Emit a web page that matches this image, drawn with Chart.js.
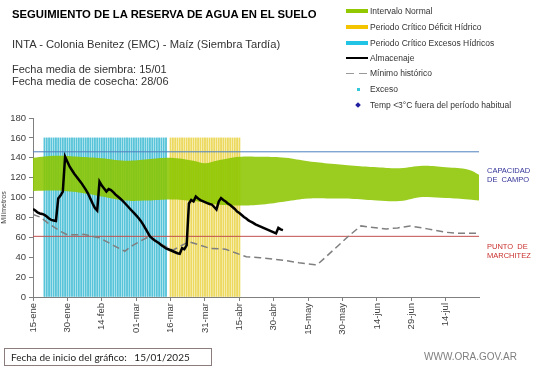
<!DOCTYPE html>
<html>
<head>
<meta charset="utf-8">
<script src="https://cdn.jsdelivr.net/npm/chart.js@4.4.0/dist/chart.umd.min.js"></script>
<style>
body { margin: 0; background: #fff; font-family: "Liberation Sans", Arial, sans-serif; }
#wrap { position: relative; width: 541px; height: 368px; overflow: hidden; }
#grafico { position: absolute; left: 0; top: 0; }
.t { position: absolute; white-space: nowrap; color: #404040; line-height: 1; }
.sw { position: absolute; }
.ley { position: absolute; left: 370px; font-size: 8.5px; color: #333; white-space: nowrap; line-height: 1; }
</style>
</head>
<body>
<div id="wrap">
  <canvas id="grafico" width="541" height="368"></canvas>

  <div class="t" style="left:12px;top:9px;font-size:11.3px;font-weight:bold;color:#000">SEGUIMIENTO DE LA RESERVA DE AGUA EN EL SUELO</div>
  <div class="t" style="left:12px;top:39px;font-size:11.2px;color:#333">INTA - Colonia Benitez (EMC) - Maíz (Siembra Tardía)</div>
  <div class="t" style="left:12px;top:64px;font-size:11px;color:#333">Fecha media de siembra: 15/01</div>
  <div class="t" style="left:12px;top:76px;font-size:11px;color:#333">Fecha media de cosecha: 28/06</div>

  <!-- leyenda -->
  <div class="sw" style="left:346px;top:9px;width:22px;height:4px;background:#92c800"></div>
  <div class="ley" style="top:7px">Intervalo Normal</div>
  <div class="sw" style="left:346px;top:25px;width:22px;height:4px;background:#f5c400"></div>
  <div class="ley" style="top:23px">Periodo Crítico Déficit Hídrico</div>
  <div class="sw" style="left:346px;top:41px;width:22px;height:4px;background:#22c4e6"></div>
  <div class="ley" style="top:39px">Periodo Crítico Excesos Hídricos</div>
  <div class="sw" style="left:346px;top:57px;width:22px;height:2px;background:#000"></div>
  <div class="ley" style="top:54px">Almacenaje</div>
  <div class="sw" style="left:346px;top:72.5px;width:8px;height:1.5px;background:#999"></div>
  <div class="sw" style="left:359px;top:72.5px;width:8px;height:1.5px;background:#999"></div>
  <div class="ley" style="top:69px">Mínimo histórico</div>
  <div class="sw" style="left:356.5px;top:87.5px;width:3px;height:3px;background:#33c8dc"></div>
  <div class="ley" style="top:85px">Exceso</div>
  <div class="sw" style="left:356px;top:103px;width:4px;height:4px;background:#1f1f9f;transform:rotate(45deg)"></div>
  <div class="ley" style="top:101px">Temp &lt;3°C fuera del período habitual</div>

  <div class="t" style="left:487px;top:166px;font-size:7.5px;color:#33339a;line-height:9px">CAPACIDAD<br>DE&nbsp; CAMPO</div>
  <div class="t" style="left:487px;top:242px;font-size:7.5px;color:#c8302c;line-height:9px">PUNTO&nbsp; DE<br>MARCHITEZ</div>

  <div class="t" style="left:4px;top:348px;width:206px;height:16px;border:1px solid #8b7d7b;font-family:Lato,sans-serif;font-size:10px;color:#222;line-height:16px"><span style="margin-left:6px">Fecha de inicio del gráfico:&nbsp;&nbsp; 15/01/2025</span></div>
  <div class="t" style="left:424px;top:352px;font-size:10px;color:#7f7f7f">WWW.ORA.GOV.AR</div>
</div>

<script>
// eje x: dias desde el 15/01, etiqueta cada 15 dias
const fechasEje = ['15-ene', '30-ene', '14-feb', '01-mar', '16-mar', '31-mar', '15-abr', '30-abr', '15-may', '30-may', '14-jun', '29-jun', '14-jul'];
const diasTotales = 194.5;

// periodos criticos (dia inicial y final)
const periodoExcesos = [5, 58];
const periodoDeficit = [60, 90];
const alturaPeriodo = 160;

const capacidadCampo = 146;
const puntoMarchitez = 61;

// intervalo normal
const bandaDias = [0, 10, 20, 30, 40, 50, 60, 70, 75, 80, 90, 100, 110, 120, 130, 140, 150, 160, 170, 180, 190, 194.5];
const bandaSuperior = [140, 142, 141, 139.5, 137, 138.5, 140, 137, 134.5, 137, 141, 141, 140, 136.5, 134, 132, 130.5, 129.5, 132, 130.5, 128, 123];
const bandaInferior = [106.7, 107, 105, 101, 97, 97, 98, 96.5, 95, 93, 92, 93, 96, 99, 99, 98.5, 97, 96.5, 100.5, 99.5, 98, 97];

// almacenaje diario desde el dia 0
const almacenaje = [
  88.5, 87, 85, 84, 83.5, 82.5, 81, 79, 77.5, 77,
  76.5, 99, 102, 106, 141, 136, 131, 127.5, 124, 121,
  118, 115, 111.5, 108, 104, 99, 94, 89.5, 87, 116,
  112, 109, 106, 108.5, 107.5, 105.5, 103, 101, 99, 97,
  94.5, 92, 89.5, 87, 84.5, 82, 79.5, 76.5, 73, 69,
  65, 61, 59, 57, 55.5, 54, 52, 50.5, 49, 48,
  47, 46, 45, 44, 43.5, 49, 48, 52, 94, 97.5,
  96, 101, 99, 97.5, 96.5, 95.5, 94.5, 93.5, 93, 90.5,
  88, 96, 99.5, 97.5, 96, 94, 92.5, 90.5, 88.5, 86,
  84.5, 82.5, 80.5, 79, 77, 75.7, 74.5, 73, 72, 71,
  70, 69, 68, 67, 66, 65, 64, 69.5, 68, 67.3
];

// minimo historico
const minimoDias = [0, 3, 7, 12, 15, 19, 22, 29, 35, 40, 43.5, 49.5, 52, 58, 61, 65, 68, 73, 77, 84, 87, 93, 99, 109, 116, 123, 124, 138, 143, 146, 154, 159, 164.5, 172, 180.5, 185, 194.5];
const minimoValores = [83, 80.5, 73.5, 66, 62.5, 62.5, 63, 59.5, 52, 46, 52, 59.5, 58, 50.5, 47, 52, 55.5, 52, 49, 48, 45.5, 40.5, 39.5, 37, 34.5, 32.5, 32.5, 62, 71.5, 70.5, 68.5, 69.5, 71.5, 68.5, 65, 64, 64];

function barrasPeriodo(p) {
  const d = [];
  for (let x = p[0]; x <= p[1]; x++) d.push({x: x, y: alturaPeriodo});
  return d;
}
function pares(xs, ys) {
  return xs.map((x, i) => ({x: x, y: ys[i]}));
}

Chart.defaults.font.family = '"Liberation Sans", Arial, sans-serif';
Chart.defaults.color = '#404040';

const ctx = document.getElementById('grafico');
new Chart(ctx, {
  type: 'line',
  data: {
    datasets: [
      {
        label: 'Almacenaje',
        data: almacenaje.map((v, i) => ({x: i, y: v})),
        borderColor: '#000',
        borderWidth: 2.5,
        order: 0
      },
      {
        label: 'Mínimo histórico',
        data: pares(minimoDias, minimoValores),
        borderColor: '#7f7f7f',
        borderWidth: 1.5,
        borderDash: [7, 4],
        order: 1
      },
      {
        label: 'Capacidad de campo',
        data: [{x: 0, y: capacidadCampo}, {x: diasTotales, y: capacidadCampo}],
        borderColor: '#4f7fbf',
        borderWidth: 1,
        order: 2
      },
      {
        label: 'Punto de marchitez',
        data: [{x: 0, y: puntoMarchitez}, {x: diasTotales, y: puntoMarchitez}],
        borderColor: '#c0504d',
        borderWidth: 1,
        order: 2
      },
      {
        label: 'inferior',
        data: pares(bandaDias, bandaInferior),
        borderWidth: 0,
        borderColor: 'rgba(0,0,0,0)',
        tension: 0.4,
        order: 3
      },
      {
        label: 'Intervalo Normal',
        data: pares(bandaDias, bandaSuperior),
        borderWidth: 0,
        borderColor: 'rgba(0,0,0,0)',
        backgroundColor: 'rgba(140,198,0,0.88)',
        fill: '-1',
        tension: 0.4,
        order: 3
      },
      {
        type: 'bar',
        label: 'Periodo Crítico Excesos Hídricos',
        data: barrasPeriodo(periodoExcesos),
        backgroundColor: '#58c4d9',
        barThickness: 1.2,
        grouped: false,
        order: 4
      },
      {
        type: 'bar',
        label: 'Periodo Crítico Déficit Hídrico',
        data: barrasPeriodo(periodoDeficit),
        backgroundColor: '#ecd95e',
        barThickness: 1.2,
        grouped: false,
        order: 4
      }
    ]
  },
  options: {
    responsive: false,
    animation: false,
    layout: {padding: {left: 0, right: 62, top: 118, bottom: 30}},
    elements: {point: {radius: 0}},
    plugins: {legend: {display: false}, tooltip: {enabled: false}},
    scales: {
      x: {
        type: 'linear',
        offset: false,
        min: 0,
        max: diasTotales,
        ticks: {
          stepSize: 15,
          includeBounds: false,
          autoSkip: false,
          minRotation: 90,
          maxRotation: 90,
          padding: 2,
          font: {size: 9.5},
          callback: v => fechasEje[v / 15] ?? ''
        },
        grid: {drawOnChartArea: false, drawTicks: true, tickLength: 4, color: '#7f7f7f', offset: false},
        border: {color: '#7f7f7f'},
        afterFit: s => { s.height = 41; }
      },
      y: {
        min: 0,
        max: 180,
        ticks: {stepSize: 20, padding: 3, font: {size: 9.5}},
        grid: {drawOnChartArea: false, drawTicks: true, tickLength: 4, color: '#7f7f7f'},
        border: {color: '#7f7f7f'},
        title: {display: true, text: 'Milímetros', font: {size: 7}, padding: {top: 0, bottom: 0}},
        afterFit: s => { s.width = 33; }
      }
    }
  }
});
</script>
</body>
</html>
